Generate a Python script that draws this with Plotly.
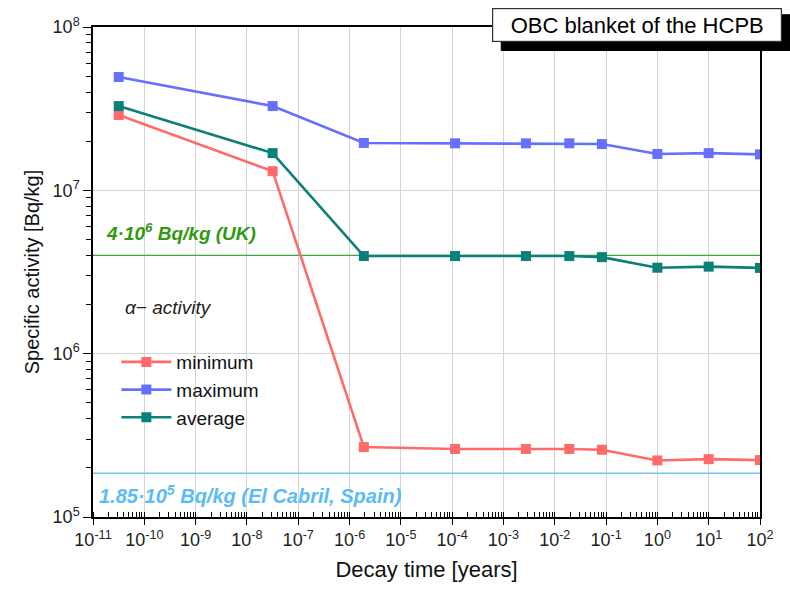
import plotly.graph_objects as go

# ---- data ----
decay_time_years = [3.17e-11, 3.17e-8, 1.9e-6, 1.14e-4, 2.74e-3, 1.92e-2, 8.3e-2, 1.0, 10.0, 100.0]
minimum = [2.89e7, 1.31e7, 2.68e5, 2.61e5, 2.61e5, 2.61e5, 2.58e5, 2.22e5, 2.26e5, 2.23e5]
maximum = [4.94e7, 3.28e7, 1.95e7, 1.94e7, 1.94e7, 1.94e7, 1.92e7, 1.67e7, 1.69e7, 1.66e7]
average = [3.28e7, 1.69e7, 3.96e6, 3.96e6, 3.96e6, 3.96e6, 3.90e6, 3.36e6, 3.41e6, 3.35e6]

limit_x = [1e-11, 1e2]
uk_limit = [4e6, 4e6]
spain_limit = [1.85e5, 1.85e5]

x_tickvals = [1e-11, 1e-10, 1e-9, 1e-8, 1e-7, 1e-6, 1e-5, 1e-4, 1e-3, 1e-2, 1e-1, 1e0, 1e1, 1e2]
x_ticktext = ["10<sup>-11</sup>", "10<sup>-10</sup>", "10<sup>-9</sup>", "10<sup>-8</sup>",
              "10<sup>-7</sup>", "10<sup>-6</sup>", "10<sup>-5</sup>", "10<sup>-4</sup>",
              "10<sup>-3</sup>", "10<sup>-2</sup>", "10<sup>-1</sup>", "10<sup>0</sup>",
              "10<sup>1</sup>", "10<sup>2</sup>"]
y_tickvals = [1e5, 1e6, 1e7, 1e8]
y_ticktext = ["10<sup>5</sup>", "10<sup>6</sup>", "10<sup>7</sup>", "10<sup>8</sup>"]

FONT = "Liberation Sans, Arial, sans-serif"

fig = go.Figure()

# reference limits
fig.add_trace(go.Scatter(x=limit_x, y=uk_limit, mode="lines",
                         line=dict(color="#3aa83a", width=1.2),
                         showlegend=False, hoverinfo="skip"))
fig.add_trace(go.Scatter(x=limit_x, y=spain_limit, mode="lines",
                         line=dict(color="#6cc8f5", width=1.5),
                         showlegend=False, hoverinfo="skip"))

series = [("minimum", minimum, "#ff6b6b"),
          ("maximum", maximum, "#6670ff"),
          ("average", average, "#0b8078")]
for name, vals, col in series:
    fig.add_trace(go.Scatter(x=decay_time_years, y=vals, mode="lines+markers", name=name,
                             line=dict(color=col, width=2.6),
                             marker=dict(symbol="square", size=10, color=col)))

fig.update_xaxes(type="log", range=[-11, 2],
                 tickvals=x_tickvals, ticktext=x_ticktext,
                 ticks="outside", ticklen=6, tickwidth=1, tickcolor="black",
                 minor=dict(ticks="inside", ticklen=5, tickwidth=1, tickcolor="black",
                            dtick="D1", showgrid=False),
                 showline=True, linecolor="black", linewidth=1.5, mirror=True,
                 showgrid=True, gridcolor="#d4d4d4", gridwidth=1.2,
                 tickfont=dict(family=FONT, size=18, color="#222"),
                 title=dict(text="Decay time [years]", font=dict(family=FONT, size=22, color="#111"),
                            standoff=12),
                 zeroline=False)
fig.update_yaxes(type="log", range=[5, 8],
                 tickvals=y_tickvals, ticktext=y_ticktext,
                 ticks="outside", ticklen=8, tickwidth=1, tickcolor="black",
                 minor=dict(ticks="outside", ticklen=5, tickwidth=1, tickcolor="black",
                            dtick="D1", showgrid=False),
                 showline=True, linecolor="black", linewidth=1.5, mirror=True,
                 showgrid=True, gridcolor="#d4d4d4", gridwidth=1.2,
                 tickfont=dict(family=FONT, size=18, color="#222"),
                 title=dict(text="Specific activity [Bq/kg]", font=dict(family=FONT, size=20, color="#111"),
                            standoff=8),
                 zeroline=False)

# title box shadow: bottom bar and right bar
fig.update_layout(shapes=[
    dict(type="rect", xref="x domain", yref="y domain",
         x0=0.612, x1=1.0, y0=0.952, y1=0.975,
         fillcolor="#000000", line=dict(color="#000000", width=1), layer="above"),
    dict(type="rect", xref="paper", yref="paper",
         x0=1.0, x1=1.045, y0=0.952, y1=1.025,
         fillcolor="#000000", line=dict(color="#000000", width=1), layer="above"),
])
fig.add_annotation(xref="paper", yref="paper", x=0.598, y=1.0388,
                   xanchor="left", yanchor="top",
                   text="OBC blanket of the HCPB", showarrow=False,
                   font=dict(family=FONT, size=22, color="black"),
                   bgcolor="white", bordercolor="#333", borderwidth=1.2,
                   width=286, height=30, align="center")

fig.add_annotation(xref="paper", yref="paper", x=0.016, y=0.582,
                   xanchor="left", yanchor="middle",
                   text="<b><i>4·10<sup>6</sup> Bq/kg (UK)</i></b>", showarrow=False,
                   font=dict(family=FONT, size=19, color="#2f9a10"))
fig.add_annotation(xref="paper", yref="paper", x=0.006, y=0.045,
                   xanchor="left", yanchor="middle",
                   text="<b><i>1.85·10<sup>5</sup> Bq/kg (El Cabril, Spain)</i></b>", showarrow=False,
                   font=dict(family=FONT, size=20, color="#5bbcf5"))
fig.add_annotation(xref="paper", yref="paper", x=0.045, y=0.427,
                   xanchor="left", yanchor="middle",
                   text="<i>α− activity</i>", showarrow=False,
                   font=dict(family=FONT, size=19, color="#222"))

fig.update_layout(
    width=790, height=594,
    margin=dict(l=93, r=30, t=27, b=77),
    plot_bgcolor="white", paper_bgcolor="white",
    legend=dict(x=0.035, y=0.355, xanchor="left", yanchor="top",
                bgcolor="rgba(0,0,0,0)", borderwidth=0,
                font=dict(family=FONT, size=19, color="#111"),
                itemwidth=50, tracegroupgap=0),
    showlegend=True,
)

fig.write_html("out.html")
